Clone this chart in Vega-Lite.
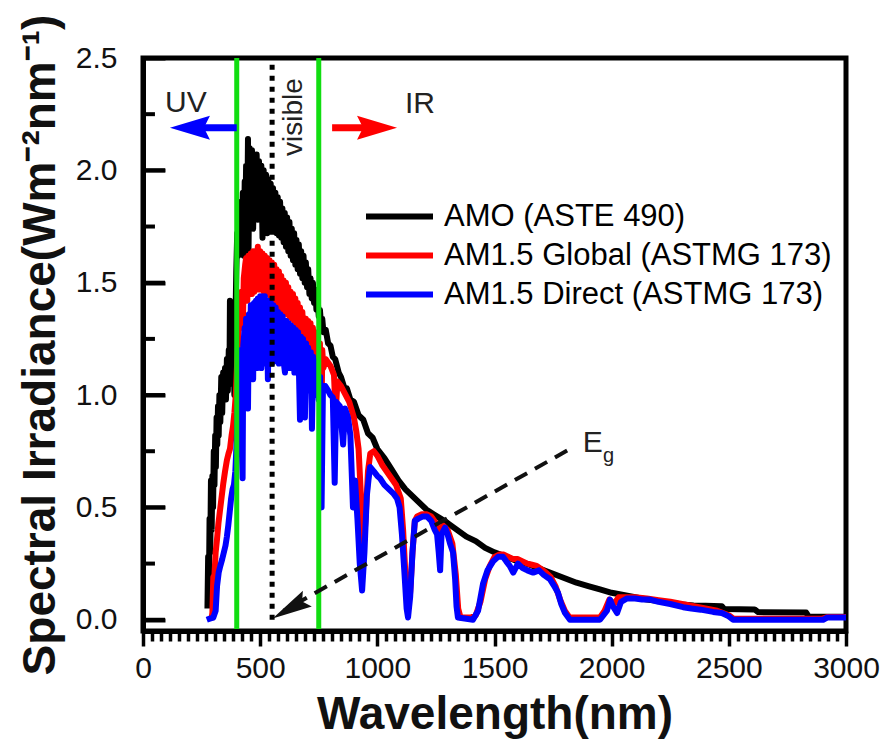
{
  "$schema": "https://vega.github.io/schema/vega-lite/v6.json",
  "autosize": "none",
  "width": 703,
  "height": 573,
  "padding": {"left": 143, "top": 58, "right": 40, "bottom": 109},
  "background": "white",
  "config": {
    "view": {"stroke": "#000", "strokeWidth": 5},
    "font": "Liberation Sans"
  },
  "resolve": {"axis": {"y": "independent"}},
  "datasets": {
    "am0": [
      {"wl":275,"irr":0.05},{"wl":278,"irr":0.28},{"wl":281,"irr":0.10},{"wl":284,"irr":0.45},{"wl":287,"irr":0.30},{"wl":290,"irr":0.62},{"wl":293,"irr":0.40},{"wl":296,"irr":0.64},{"wl":299,"irr":0.50},{"wl":302,"irr":0.75},{"wl":305,"irr":0.60},{"wl":308,"irr":0.82},{"wl":311,"irr":0.68},{"wl":314,"irr":0.90},{"wl":317,"irr":0.78},{"wl":320,"irr":0.95},{"wl":323,"irr":0.82},{"wl":326,"irr":1.00},{"wl":330,"irr":0.88},{"wl":334,"irr":1.08},{"wl":338,"irr":0.92},{"wl":342,"irr":1.10},{"wl":346,"irr":0.98},{"wl":350,"irr":1.12},{"wl":354,"irr":0.98},{"wl":358,"irr":1.16},{"wl":362,"irr":1.02},{"wl":366,"irr":1.20},{"wl":369,"irr":1.08},{"wl":371,"irr":1.42},{"wl":374,"irr":1.10},{"wl":378,"irr":1.22},{"wl":382,"irr":1.05},{"wl":386,"irr":1.25},{"wl":390,"irr":1.00},{"wl":394,"irr":1.30},{"wl":398,"irr":1.55},{"wl":402,"irr":1.72},{"wl":406,"irr":1.62},{"wl":410,"irr":1.82},{"wl":414,"irr":1.70},{"wl":418,"irr":1.86},{"wl":422,"irr":1.66},{"wl":426,"irr":1.90},{"wl":430,"irr":1.62},{"wl":434,"irr":1.95},{"wl":437,"irr":1.80},{"wl":440,"irr":2.02},{"wl":445,"irr":1.80},{"wl":448,"irr":2.14},{"wl":450,"irr":1.62},{"wl":455,"irr":2.10},{"wl":460,"irr":1.85},{"wl":465,"irr":2.09},{"wl":470,"irr":1.74},{"wl":475,"irr":2.07},{"wl":480,"irr":1.86},{"wl":485,"irr":2.07},{"wl":490,"irr":1.78},{"wl":495,"irr":2.04},{"wl":500,"irr":1.84},{"wl":505,"irr":2.02},{"wl":510,"irr":1.70},{"wl":515,"irr":2.00},{"wl":520,"irr":1.78},{"wl":525,"irr":1.98},{"wl":530,"irr":1.72},{"wl":535,"irr":1.96},{"wl":540,"irr":1.78},{"wl":545,"irr":1.94},{"wl":550,"irr":1.74},{"wl":555,"irr":1.92},{"wl":560,"irr":1.73},{"wl":565,"irr":1.90},{"wl":570,"irr":1.72},{"wl":575,"irr":1.88},{"wl":580,"irr":1.71},{"wl":585,"irr":1.86},{"wl":590,"irr":1.70},{"wl":595,"irr":1.83},{"wl":600,"irr":1.68},{"wl":605,"irr":1.81},{"wl":610,"irr":1.66},{"wl":615,"irr":1.79},{"wl":620,"irr":1.64},{"wl":625,"irr":1.77},{"wl":630,"irr":1.62},{"wl":635,"irr":1.74},{"wl":640,"irr":1.60},{"wl":645,"irr":1.72},{"wl":650,"irr":1.58},{"wl":655,"irr":1.69},{"wl":660,"irr":1.56},{"wl":665,"irr":1.67},{"wl":670,"irr":1.54},{"wl":675,"irr":1.64},{"wl":680,"irr":1.52},{"wl":685,"irr":1.62},{"wl":690,"irr":1.50},{"wl":695,"irr":1.59},{"wl":700,"irr":1.48},{"wl":705,"irr":1.56},{"wl":710,"irr":1.45},{"wl":715,"irr":1.52},{"wl":720,"irr":1.43},{"wl":725,"irr":1.50},{"wl":730,"irr":1.41},{"wl":735,"irr":1.47},{"wl":740,"irr":1.38},{"wl":745,"irr":1.43},{"wl":750,"irr":1.35},{"wl":755,"irr":1.38},{"wl":760,"irr":1.31},{"wl":765,"irr":1.34},{"wl":770,"irr":1.28},{"wl":780,"irr":1.29},{"wl":790,"irr":1.23},{"wl":800,"irr":1.22},{"wl":810,"irr":1.17},{"wl":820,"irr":1.16},{"wl":835,"irr":1.10},{"wl":845,"irr":1.08},{"wl":860,"irr":1.03},{"wl":870,"irr":1.03},{"wl":885,"irr":0.98},{"wl":900,"irr":0.97},{"wl":920,"irr":0.91},{"wl":940,"irr":0.89},{"wl":960,"irr":0.83},{"wl":980,"irr":0.81},{"wl":1000,"irr":0.76},{"wl":1030,"irr":0.72},{"wl":1060,"irr":0.67},{"wl":1090,"irr":0.62},{"wl":1120,"irr":0.58},{"wl":1150,"irr":0.55},{"wl":1180,"irr":0.52},{"wl":1210,"irr":0.49},{"wl":1240,"irr":0.47},{"wl":1270,"irr":0.45},{"wl":1300,"irr":0.43},{"wl":1340,"irr":0.40},{"wl":1380,"irr":0.37},{"wl":1420,"irr":0.35},{"wl":1460,"irr":0.32},{"wl":1500,"irr":0.30},{"wl":1550,"irr":0.28},{"wl":1600,"irr":0.26},{"wl":1650,"irr":0.245},{"wl":1700,"irr":0.225},{"wl":1750,"irr":0.205},{"wl":1800,"irr":0.185},{"wl":1850,"irr":0.165},{"wl":1900,"irr":0.15},{"wl":1950,"irr":0.135},{"wl":2000,"irr":0.12},{"wl":2050,"irr":0.11},{"wl":2100,"irr":0.10},{"wl":2150,"irr":0.09},{"wl":2200,"irr":0.083},{"wl":2250,"irr":0.076},{"wl":2300,"irr":0.068},{"wl":2350,"irr":0.064},{"wl":2400,"irr":0.062},{"wl":2470,"irr":0.06},{"wl":2480,"irr":0.048},{"wl":2610,"irr":0.046},{"wl":2625,"irr":0.034},{"wl":2830,"irr":0.032},{"wl":2840,"irr":0.015},{"wl":3000,"irr":0.013}
    ],
    "global": [
      {"wl":292,"irr":0.0},{"wl":296,"irr":0.03},{"wl":300,"irr":0.19},{"wl":305,"irr":0.20},{"wl":310,"irr":0.30},{"wl":316,"irr":0.36},{"wl":322,"irr":0.43},{"wl":329,"irr":0.49},{"wl":336,"irr":0.55},{"wl":343,"irr":0.61},{"wl":350,"irr":0.66},{"wl":358,"irr":0.71},{"wl":365,"irr":0.74},{"wl":371,"irr":0.76},{"wl":378,"irr":0.82},{"wl":384,"irr":0.86},{"wl":390,"irr":0.92},{"wl":396,"irr":1.00},{"wl":402,"irr":1.15},{"wl":408,"irr":1.28},{"wl":414,"irr":1.40},{"wl":420,"irr":1.46},{"wl":426,"irr":1.30},{"wl":430,"irr":1.52},{"wl":436,"irr":1.58},{"wl":440,"irr":1.61},{"wl":445,"irr":1.42},{"wl":450,"irr":1.62},{"wl":455,"irr":1.45},{"wl":460,"irr":1.63},{"wl":465,"irr":1.45},{"wl":470,"irr":1.64},{"wl":475,"irr":1.46},{"wl":480,"irr":1.64},{"wl":485,"irr":1.47},{"wl":490,"irr":1.66},{"wl":495,"irr":1.47},{"wl":500,"irr":1.64},{"wl":505,"irr":1.47},{"wl":510,"irr":1.63},{"wl":515,"irr":1.46},{"wl":520,"irr":1.62},{"wl":525,"irr":1.46},{"wl":530,"irr":1.61},{"wl":535,"irr":1.45},{"wl":540,"irr":1.60},{"wl":545,"irr":1.44},{"wl":550,"irr":1.59},{"wl":555,"irr":1.43},{"wl":560,"irr":1.58},{"wl":565,"irr":1.42},{"wl":570,"irr":1.56},{"wl":575,"irr":1.41},{"wl":580,"irr":1.55},{"wl":585,"irr":1.39},{"wl":590,"irr":1.53},{"wl":595,"irr":1.38},{"wl":600,"irr":1.51},{"wl":605,"irr":1.37},{"wl":610,"irr":1.50},{"wl":615,"irr":1.36},{"wl":620,"irr":1.48},{"wl":625,"irr":1.35},{"wl":630,"irr":1.46},{"wl":635,"irr":1.34},{"wl":640,"irr":1.45},{"wl":645,"irr":1.33},{"wl":650,"irr":1.43},{"wl":655,"irr":1.31},{"wl":660,"irr":1.41},{"wl":665,"irr":1.30},{"wl":670,"irr":1.39},{"wl":675,"irr":1.28},{"wl":680,"irr":1.37},{"wl":685,"irr":1.27},{"wl":690,"irr":1.22},{"wl":695,"irr":1.34},{"wl":700,"irr":1.25},{"wl":705,"irr":1.33},{"wl":710,"irr":1.23},{"wl":715,"irr":1.32},{"wl":720,"irr":1.21},{"wl":725,"irr":1.30},{"wl":730,"irr":1.19},{"wl":735,"irr":1.28},{"wl":740,"irr":1.17},{"wl":745,"irr":1.26},{"wl":750,"irr":1.15},{"wl":755,"irr":1.23},{"wl":760,"irr":0.72},{"wl":765,"irr":1.20},{"wl":770,"irr":1.12},{"wl":780,"irr":1.16},{"wl":800,"irr":1.13},{"wl":815,"irr":1.09},{"wl":822,"irr":0.92},{"wl":830,"irr":1.06},{"wl":845,"irr":1.04},{"wl":860,"irr":1.01},{"wl":880,"irr":0.97},{"wl":900,"irr":0.90},{"wl":910,"irr":0.84},{"wl":920,"irr":0.76},{"wl":930,"irr":0.55},{"wl":940,"irr":0.30},{"wl":950,"irr":0.45},{"wl":960,"irr":0.66},{"wl":970,"irr":0.74},{"wl":985,"irr":0.75},{"wl":1000,"irr":0.73},{"wl":1020,"irr":0.69},{"wl":1040,"irr":0.66},{"wl":1060,"irr":0.63},{"wl":1080,"irr":0.60},{"wl":1100,"irr":0.54},{"wl":1110,"irr":0.40},{"wl":1120,"irr":0.20},{"wl":1130,"irr":0.05},{"wl":1140,"irr":0.12},{"wl":1150,"irr":0.30},{"wl":1160,"irr":0.44},{"wl":1170,"irr":0.46},{"wl":1190,"irr":0.47},{"wl":1210,"irr":0.47},{"wl":1230,"irr":0.46},{"wl":1250,"irr":0.43},{"wl":1260,"irr":0.40},{"wl":1270,"irr":0.38},{"wl":1280,"irr":0.42},{"wl":1300,"irr":0.40},{"wl":1320,"irr":0.34},{"wl":1335,"irr":0.20},{"wl":1345,"irr":0.05},{"wl":1355,"irr":0.01},{"wl":1400,"irr":0.01},{"wl":1420,"irr":0.02},{"wl":1440,"irr":0.08},{"wl":1460,"irr":0.18},{"wl":1480,"irr":0.24},{"wl":1500,"irr":0.28},{"wl":1520,"irr":0.29},{"wl":1540,"irr":0.29},{"wl":1560,"irr":0.28},{"wl":1580,"irr":0.27},{"wl":1600,"irr":0.27},{"wl":1620,"irr":0.26},{"wl":1640,"irr":0.25},{"wl":1660,"irr":0.245},{"wl":1680,"irr":0.24},{"wl":1700,"irr":0.225},{"wl":1720,"irr":0.21},{"wl":1740,"irr":0.19},{"wl":1760,"irr":0.15},{"wl":1780,"irr":0.09},{"wl":1800,"irr":0.04},{"wl":1820,"irr":0.01},{"wl":1950,"irr":0.01},{"wl":1970,"irr":0.04},{"wl":1990,"irr":0.09},{"wl":2010,"irr":0.07},{"wl":2030,"irr":0.10},{"wl":2060,"irr":0.10},{"wl":2100,"irr":0.10},{"wl":2150,"irr":0.095},{"wl":2200,"irr":0.087},{"wl":2250,"irr":0.08},{"wl":2300,"irr":0.07},{"wl":2350,"irr":0.06},{"wl":2400,"irr":0.05},{"wl":2450,"irr":0.04},{"wl":2500,"irr":0.02},{"wl":2520,"irr":0.005},{"wl":2900,"irr":0.005},{"wl":2920,"irr":0.012},{"wl":3000,"irr":0.012}
    ],
    "direct": [
      {"wl":272,"irr":0.0},{"wl":285,"irr":0.005},{"wl":300,"irr":0.01},{"wl":310,"irr":0.04},{"wl":316,"irr":0.15},{"wl":323,"irr":0.21},{"wl":330,"irr":0.24},{"wl":338,"irr":0.27},{"wl":345,"irr":0.30},{"wl":352,"irr":0.33},{"wl":358,"irr":0.37},{"wl":364,"irr":0.42},{"wl":370,"irr":0.48},{"wl":376,"irr":0.54},{"wl":382,"irr":0.58},{"wl":388,"irr":0.60},{"wl":394,"irr":0.66},{"wl":400,"irr":0.80},{"wl":406,"irr":1.00},{"wl":412,"irr":1.12},{"wl":418,"irr":1.20},{"wl":422,"irr":0.75},{"wl":425,"irr":0.63},{"wl":428,"irr":1.22},{"wl":434,"irr":1.30},{"wl":437,"irr":1.05},{"wl":440,"irr":1.34},{"wl":444,"irr":1.00},{"wl":448,"irr":0.94},{"wl":452,"irr":1.36},{"wl":456,"irr":1.15},{"wl":460,"irr":1.40},{"wl":465,"irr":1.12},{"wl":470,"irr":1.07},{"wl":474,"irr":1.41},{"wl":478,"irr":1.15},{"wl":482,"irr":1.42},{"wl":486,"irr":1.12},{"wl":490,"irr":1.43},{"wl":495,"irr":1.14},{"wl":500,"irr":1.44},{"wl":505,"irr":1.12},{"wl":510,"irr":1.44},{"wl":515,"irr":1.16},{"wl":520,"irr":1.44},{"wl":525,"irr":1.14},{"wl":528,"irr":1.42},{"wl":533,"irr":1.07},{"wl":538,"irr":1.42},{"wl":542,"irr":1.15},{"wl":546,"irr":1.41},{"wl":550,"irr":1.14},{"wl":556,"irr":1.40},{"wl":560,"irr":1.15},{"wl":566,"irr":1.39},{"wl":570,"irr":1.16},{"wl":576,"irr":1.37},{"wl":580,"irr":1.14},{"wl":586,"irr":1.36},{"wl":590,"irr":1.16},{"wl":596,"irr":1.35},{"wl":600,"irr":1.15},{"wl":606,"irr":1.10},{"wl":612,"irr":1.33},{"wl":616,"irr":1.15},{"wl":622,"irr":1.32},{"wl":626,"irr":1.12},{"wl":632,"irr":1.31},{"wl":636,"irr":1.14},{"wl":642,"irr":1.30},{"wl":646,"irr":1.10},{"wl":652,"irr":1.29},{"wl":656,"irr":1.12},{"wl":662,"irr":1.28},{"wl":666,"irr":1.08},{"wl":670,"irr":0.89},{"wl":674,"irr":1.26},{"wl":678,"irr":1.06},{"wl":683,"irr":1.25},{"wl":688,"irr":1.05},{"wl":691,"irr":0.90},{"wl":696,"irr":1.23},{"wl":700,"irr":1.05},{"wl":705,"irr":1.21},{"wl":710,"irr":1.02},{"wl":716,"irr":1.19},{"wl":721,"irr":0.85},{"wl":726,"irr":1.17},{"wl":730,"irr":1.00},{"wl":736,"irr":1.15},{"wl":740,"irr":1.00},{"wl":746,"irr":1.12},{"wl":750,"irr":0.98},{"wl":756,"irr":1.08},{"wl":762,"irr":0.50},{"wl":768,"irr":1.04},{"wl":778,"irr":1.04},{"wl":790,"irr":1.02},{"wl":800,"irr":1.00},{"wl":810,"irr":0.99},{"wl":818,"irr":0.61},{"wl":824,"irr":0.97},{"wl":840,"irr":0.95},{"wl":854,"irr":0.78},{"wl":862,"irr":0.94},{"wl":875,"irr":0.90},{"wl":885,"irr":0.82},{"wl":896,"irr":0.50},{"wl":905,"irr":0.62},{"wl":915,"irr":0.45},{"wl":925,"irr":0.25},{"wl":935,"irr":0.13},{"wl":945,"irr":0.30},{"wl":955,"irr":0.55},{"wl":962,"irr":0.62},{"wl":969,"irr":0.68},{"wl":985,"irr":0.66},{"wl":1000,"irr":0.64},{"wl":1011,"irr":0.63},{"wl":1030,"irr":0.60},{"wl":1050,"irr":0.58},{"wl":1070,"irr":0.56},{"wl":1084,"irr":0.54},{"wl":1095,"irr":0.50},{"wl":1105,"irr":0.38},{"wl":1115,"irr":0.22},{"wl":1125,"irr":0.05},{"wl":1131,"irr":0.01},{"wl":1140,"irr":0.10},{"wl":1150,"irr":0.30},{"wl":1160,"irr":0.44},{"wl":1175,"irr":0.45},{"wl":1195,"irr":0.46},{"wl":1212,"irr":0.46},{"wl":1230,"irr":0.44},{"wl":1245,"irr":0.40},{"wl":1255,"irr":0.38},{"wl":1262,"irr":0.30},{"wl":1268,"irr":0.22},{"wl":1274,"irr":0.38},{"wl":1289,"irr":0.41},{"wl":1300,"irr":0.38},{"wl":1310,"irr":0.34},{"wl":1323,"irr":0.30},{"wl":1332,"irr":0.18},{"wl":1338,"irr":0.06},{"wl":1344,"irr":0.01},{"wl":1408,"irr":0.0},{"wl":1430,"irr":0.04},{"wl":1451,"irr":0.16},{"wl":1470,"irr":0.22},{"wl":1494,"irr":0.26},{"wl":1515,"irr":0.28},{"wl":1536,"irr":0.28},{"wl":1550,"irr":0.26},{"wl":1565,"irr":0.24},{"wl":1580,"irr":0.21},{"wl":1600,"irr":0.25},{"wl":1620,"irr":0.23},{"wl":1640,"irr":0.22},{"wl":1665,"irr":0.21},{"wl":1690,"irr":0.22},{"wl":1710,"irr":0.20},{"wl":1737,"irr":0.18},{"wl":1755,"irr":0.15},{"wl":1771,"irr":0.12},{"wl":1785,"irr":0.07},{"wl":1801,"irr":0.03},{"wl":1822,"irr":0.0},{"wl":1950,"irr":0.0},{"wl":1965,"irr":0.02},{"wl":1980,"irr":0.04},{"wl":1993,"irr":0.09},{"wl":2005,"irr":0.06},{"wl":2023,"irr":0.03},{"wl":2040,"irr":0.08},{"wl":2066,"irr":0.095},{"wl":2100,"irr":0.095},{"wl":2130,"irr":0.09},{"wl":2164,"irr":0.09},{"wl":2200,"irr":0.08},{"wl":2250,"irr":0.07},{"wl":2305,"irr":0.056},{"wl":2340,"irr":0.05},{"wl":2380,"irr":0.045},{"wl":2433,"irr":0.035},{"wl":2470,"irr":0.03},{"wl":2500,"irr":0.015},{"wl":2518,"irr":0.0},{"wl":2902,"irr":0.0},{"wl":2919,"irr":0.01},{"wl":3000,"irr":0.01}
    ]
  },
  "encoding": {
    "x": {
      "type": "quantitative",
      "scale": {"domain": [0, 3000], "nice": false, "zero": false},
      "axis": {
        "orient": "bottom",
        "zindex": 1,
        "values": [0,38.46,76.92,115.38,153.85,192.31,230.77,269.23,307.69,346.15,384.62,423.08,461.54,500,538.46,576.92,615.38,653.85,692.31,730.77,769.23,807.69,846.15,884.62,923.08,961.54,1000,1038.46,1076.92,1115.38,1153.85,1192.31,1230.77,1269.23,1307.69,1346.15,1384.62,1423.08,1461.54,1500,1538.46,1576.92,1615.38,1653.85,1692.31,1730.77,1769.23,1807.69,1846.15,1884.62,1923.08,1961.54,2000,2038.46,2076.92,2115.38,2153.85,2192.31,2230.77,2269.23,2307.69,2346.15,2384.62,2423.08,2461.54,2500,2538.46,2576.92,2615.38,2653.85,2692.31,2730.77,2769.23,2807.69,2846.15,2884.62,2923.08,2961.54,3000],
        "format": "d",
        "labelExpr": "datum.value % 500 === 0 ? datum.label : ''",
        "labelFont": "Liberation Sans",
        "labelFontSize": 30,
        "labelColor": "#111",
        "labelPadding": 7,
        "labelOverlap": false,
        "labelFlush": false,
        "labelBound": false,
        "tickSize": {"condition": {"test": "datum.value % 500 === 0", "value": 15}, "value": 10},
        "tickWidth": 3.5,
        "tickColor": "#000",
        "domainColor": "#000",
        "domainWidth": 5,
        "grid": false,
        "title": "Wavelength(nm)",
        "titleFont": "Liberation Sans",
        "titleFontSize": 46,
        "titleFontWeight": "bold",
        "titleColor": "#111",
        "titleX": 351.5,
        "titleY": 97,
        "titleAlign": "center",
        "titleBaseline": "alphabetic"
      }
    },
    "y": {
      "type": "quantitative",
      "scale": {"domain": [-0.05, 2.5], "nice": false, "zero": false},
      "axis": null
    }
  },
  "layer": [
    {
      "data": {"name": "am0"},
      "mark": {"type": "line", "strokeWidth": 6, "strokeJoin": "round"},
      "encoding": {
        "x": {"field": "wl", "type": "quantitative"},
        "y": {
          "field": "irr",
          "type": "quantitative",
          "axis": {
            "orient": "left",
            "zindex": 1,
            "values": [0, 0.5, 1, 1.5, 2, 2.5],
            "format": ".1f",
            "ticks": true,
            "tickSize": -22,
            "tickWidth": 4,
            "tickColor": "#000",
            "labelFont": "Liberation Sans",
            "labelFontSize": 30,
            "labelColor": "#111",
            "labelPadding": 48,
            "labelOverlap": false,
            "labelFlush": false,
            "labelBound": false,
            "domainColor": "#000",
            "domainWidth": 5,
            "grid": false,
            "title": "Spectral Irradiance(Wm⁻²nm⁻¹)",
            "titleFont": "Liberation Sans",
            "titleFontSize": 46,
            "titleFontWeight": "bold",
            "titleColor": "#111",
            "titleX": -89,
            "titleY": 286.5,
            "titleAngle": 270,
            "titleAlign": "center",
            "titleBaseline": "alphabetic"
          }
        },
        "color": {
          "datum": "AMO (ASTE 490)",
          "type": "nominal",
          "scale": {"domain": ["AMO (ASTE 490)", "AM1.5 Global (ASTMG 173)", "AM1.5 Direct (ASTMG 173)"], "range": ["#000000", "#ff0000", "#0000ff"]},
          "legend": {
            "orient": "none", "legendX": 220, "legendY": 139, "title": null,
            "symbolType": "stroke", "symbolSize": 4489, "symbolStrokeWidth": 6,
            "labelFont": "Liberation Sans", "labelFontSize": 31, "labelColor": "#000",
            "labelOffset": 8, "clipHeight": 39, "rowPadding": 0, "padding": 0, "labelLimit": 800
          }
        }
      }
    },
    {
      "data": {"name": "global"},
      "mark": {"type": "line", "strokeWidth": 6, "strokeJoin": "round"},
      "encoding": {
        "x": {"field": "wl", "type": "quantitative"},
        "y": {"field": "irr", "type": "quantitative"},
        "color": {"datum": "AM1.5 Global (ASTMG 173)", "type": "nominal"}
      }
    },
    {
      "data": {"name": "direct"},
      "mark": {"type": "line", "strokeWidth": 6, "strokeJoin": "round"},
      "encoding": {
        "x": {"field": "wl", "type": "quantitative"},
        "y": {"field": "irr", "type": "quantitative"},
        "color": {"datum": "AM1.5 Direct (ASTMG 173)", "type": "nominal"}
      }
    },
    {
      "data": {"values": [{"v": 0}, {"v": 0.5}, {"v": 1}, {"v": 1.5}, {"v": 2}, {"v": 2.5}]},
      "mark": {"type": "rule", "color": "#000", "strokeWidth": 4},
      "encoding": {
        "x": {"datum": 0, "type": "quantitative"},
        "x2": {"datum": 94},
        "y": {"field": "v", "type": "quantitative"}
      }
    },
    {
      "data": {"values": [{"v": 0.25}, {"v": 0.75}, {"v": 1.25}, {"v": 1.75}, {"v": 2.25}]},
      "mark": {"type": "rule", "color": "#000", "strokeWidth": 4},
      "encoding": {
        "x": {"datum": 0, "type": "quantitative"},
        "x2": {"datum": 51},
        "y": {"field": "v", "type": "quantitative"}
      }
    },
    {
      "data": {"values": [{"wl": 400}, {"wl": 750}]},
      "mark": {"type": "rule", "color": "#11dd11", "strokeWidth": 5},
      "encoding": {"x": {"field": "wl", "type": "quantitative"}}
    },
    {
      "data": {"values": [{"wl": 551, "lo": 0, "hi": 2.5}]},
      "mark": {"type": "rule", "color": "#000", "strokeWidth": 5, "strokeDash": [5, 6]},
      "encoding": {
        "x": {"field": "wl", "type": "quantitative"},
        "y": {"field": "lo", "type": "quantitative"},
        "y2": {"field": "hi"}
      }
    },
    {
      "data": {"values": [{"wl": 1810, "irr": 0.753, "wl2": 600, "irr2": 0.04}]},
      "mark": {"type": "rule", "color": "#111", "strokeWidth": 4, "strokeDash": [14, 9]},
      "encoding": {
        "x": {"field": "wl", "type": "quantitative"},
        "y": {"field": "irr", "type": "quantitative"},
        "x2": {"field": "wl2"},
        "y2": {"field": "irr2"}
      }
    },
    {
      "data": {"values": [{"wl": 553, "irr": 0.006}]},
      "mark": {"type": "point", "shape": "M0,0L-2,-0.45L-1.7,0L-2,0.45Z", "size": 1600, "angle": 150.3, "filled": true, "color": "#111", "opacity": 1},
      "encoding": {
        "x": {"field": "wl", "type": "quantitative"},
        "y": {"field": "irr", "type": "quantitative"}
      }
    },
    {
      "data": {"values": [{"wl": 400, "wl2": 225, "irr": 2.19}]},
      "mark": {"type": "rule", "color": "#0000ff", "strokeWidth": 7},
      "encoding": {
        "x": {"field": "wl", "type": "quantitative"},
        "x2": {"field": "wl2"},
        "y": {"field": "irr", "type": "quantitative"}
      }
    },
    {
      "data": {"values": [{"wl": 115, "irr": 2.19}]},
      "mark": {"type": "point", "shape": "M0,0L-2,-0.6L-1.7,0L-2,0.6Z", "size": 1600, "angle": 180, "filled": true, "color": "#0000ff", "opacity": 1},
      "encoding": {
        "x": {"field": "wl", "type": "quantitative"},
        "y": {"field": "irr", "type": "quantitative"}
      }
    },
    {
      "data": {"values": [{"wl": 807, "wl2": 980, "irr": 2.19}]},
      "mark": {"type": "rule", "color": "#ff0000", "strokeWidth": 7},
      "encoding": {
        "x": {"field": "wl", "type": "quantitative"},
        "x2": {"field": "wl2"},
        "y": {"field": "irr", "type": "quantitative"}
      }
    },
    {
      "data": {"values": [{"wl": 1084, "irr": 2.19}]},
      "mark": {"type": "point", "shape": "M0,0L-2,-0.6L-1.7,0L-2,0.6Z", "size": 1600, "angle": 0, "filled": true, "color": "#ff0000", "opacity": 1},
      "encoding": {
        "x": {"field": "wl", "type": "quantitative"},
        "y": {"field": "irr", "type": "quantitative"}
      }
    },
    {
      "data": {"values": [{"label": "UV", "wl": 94, "irr": 2.26}, {"label": "IR", "wl": 1118, "irr": 2.256}, {"label": "E", "wl": 1877, "irr": 0.746}]},
      "mark": {"type": "text", "font": "Liberation Sans", "fontSize": 30, "align": "left", "baseline": "alphabetic", "color": "#222"},
      "encoding": {
        "x": {"field": "wl", "type": "quantitative"},
        "y": {"field": "irr", "type": "quantitative"},
        "text": {"field": "label"}
      }
    },
    {
      "data": {"values": [{"label": "g", "wl": 1963, "irr": 0.701}]},
      "mark": {"type": "text", "font": "Liberation Sans", "fontSize": 20, "align": "left", "baseline": "alphabetic", "color": "#222"},
      "encoding": {
        "x": {"field": "wl", "type": "quantitative"},
        "y": {"field": "irr", "type": "quantitative"},
        "text": {"field": "label"}
      }
    },
    {
      "data": {"values": [{"label": "visible", "wl": 644, "irr": 2.237}]},
      "mark": {"type": "text", "font": "Liberation Sans", "fontSize": 28, "align": "center", "baseline": "middle", "angle": 270, "color": "#222"},
      "encoding": {
        "x": {"field": "wl", "type": "quantitative"},
        "y": {"field": "irr", "type": "quantitative"},
        "text": {"field": "label"}
      }
    }
  ]
}
